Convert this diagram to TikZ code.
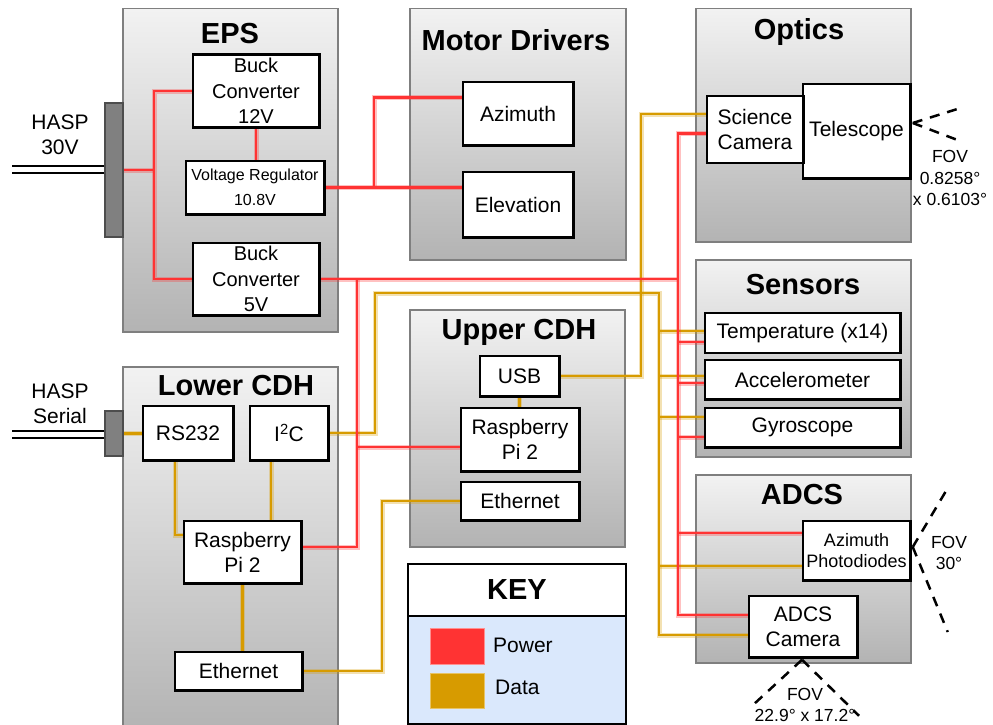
\documentclass[tikz,border=0pt]{standalone}
\usepackage{fontspec}
\setmainfont{Liberation Sans}
\usetikzlibrary{calc}

\definecolor{powerc}{HTML}{FF3333}
\definecolor{datac}{HTML}{D79B00}
\definecolor{keyblue}{HTML}{DAE8FC}
\definecolor{grpline}{HTML}{7F7F7F}
\definecolor{grptop}{HTML}{F2F2F2}
\definecolor{grpbot}{HTML}{B3B3B3}
\definecolor{plug}{HTML}{808080}
\definecolor{plugline}{HTML}{4D4D4D}

\tikzset{
  grp/.style={draw=grpline, line width=1.5pt, top color=grptop, bottom color=grpbot,
              anchor=north west, inner sep=0pt},
  blk/.style={draw=black, line width=1.5pt, fill=white, align=center, inner sep=0pt,
              font=\fontsize{21}{25}\selectfont},
  ttl/.style={inner sep=0pt, font=\bfseries\fontsize{29}{34}\selectfont},
  lbl/.style={align=center, inner sep=0pt, font=\fontsize{21}{25}\selectfont},
  fovtxt/.style={align=center, inner sep=0pt, font=\fontsize{17.5}{21.5}\selectfont},
  pwr/.style={draw=powerc, line width=2.5pt,
              preaction={draw=powerc, draw opacity=0.3, line width=5pt}},
  dat/.style={draw=datac, line width=2.5pt,
              preaction={draw=datac, draw opacity=0.3, line width=5pt}},
  fov/.style={draw=black, line width=2.5pt, dash pattern=on 10pt off 8pt},
  plugbox/.style={draw=plugline, line width=1.5pt, fill=plug, inner sep=0pt},
  cable/.style={draw=black, line width=1.3pt},
  keypart/.style={draw=black, line width=2pt, anchor=north west, inner sep=0pt},
  swatch/.style={inner sep=0pt, line width=1pt, minimum width=54pt},
}

\begin{document}
\begin{tikzpicture}[x=1pt, y=-1pt]
\useasboundingbox (0,0) rectangle (993,725);

% ---------- subsystem groups ----------
\node[grp, minimum width=215pt, minimum height=323pt] (eps)    at (122,8)   {};
\node[grp, minimum width=216pt, minimum height=251pt] (motor)  at (409,8)   {};
\node[grp, minimum width=215pt, minimum height=233pt] (optics) at (695,8)   {};
\node[grp, minimum width=215pt, minimum height=197pt] (sens)   at (695,259) {};
\node[grp, minimum width=215pt, minimum height=188pt] (adcs)   at (695,474) {};
\node[grp, minimum width=215pt, minimum height=365pt] (lcdh)   at (122,366) {};
\node[grp, minimum width=215pt, minimum height=237pt] (ucdh)   at (409,309) {};

% ---------- HASP interface plugs and cables ----------
\node[plugbox, minimum width=18pt, minimum height=134pt] (hasp30) at (114,170) {};
\node[plugbox, minimum width=18pt, minimum height=45pt]  (hasps)  at (114,433.5) {};
\draw[cable] ($(hasp30.west)+(0,-4)$) -- ++(-92,0);
\draw[cable] ($(hasp30.west)+(0,3)$)  -- ++(-92,0);
\draw[cable] ($(hasps.west)+(0,-2.5)$) -- ++(-92,0);
\draw[cable] ($(hasps.west)+(0,4.5)$)  -- ++(-92,0);
\node[lbl] (hasp30lbl) at (60,135)   {HASP\\30V};
\node[lbl] (haspslbl)  at (60,403.5) {HASP\\Serial};

% ---------- inner blocks (placed first so wires can refer to them) ----------
\path
  node[blk, minimum width=126pt, minimum height=72pt, font=\fontsize{20}{25.5}\selectfont]
       (buckH) at (256,91) {Buck\\Converter\\12V}
  node[blk, minimum width=138pt, minimum height=53pt, font=\fontsize{16}{24.5}\selectfont]
       (vreg) at (255,187.5) {Voltage Regulator\\10.8V}
  node[blk, minimum width=126pt, minimum height=72pt, font=\fontsize{20}{25.5}\selectfont]
       (buckL) at (256,279) {Buck\\Converter\\5V}
  node[blk, minimum width=110pt, minimum height=63pt] (azi)  at (518,113.5) {Azimuth}
  node[blk, minimum width=110pt, minimum height=65pt] (elev) at (518,204.5) {Elevation}
  node[blk, minimum width=96pt,  minimum height=66pt] (scicam) at (755,129.5) {Science\\Camera}
  node[blk, minimum width=107pt, minimum height=94pt] (tele) at (856.5,131) {Telescope}
  node[blk, minimum width=195pt, minimum height=39pt] (temp)  at (802.5,333)   {Temperature (x14)}
  node[blk, minimum width=195pt, minimum height=39pt] (accel) at (802.5,379.5) {Accelerometer}
  node[blk, minimum width=195pt, minimum height=39pt] (gyro)  at (802.5,427.5) {Gyroscope}
  node[blk, minimum width=107pt, minimum height=59pt, font=\fontsize{18}{21}\selectfont]
       (photo) at (856.5,550.5) {Azimuth\\Photodiodes}
  node[blk, minimum width=108pt, minimum height=61pt] (adcam) at (803,626.5) {ADCS\\Camera}
  node[blk, minimum width=90pt,  minimum height=54pt] (rs232) at (188,433) {RS232}
  node[blk, minimum width=78pt,  minimum height=54pt] (i2c)   at (289,433) {I\textsuperscript{2}C}
  node[blk, minimum width=117pt, minimum height=62pt] (lrpi)  at (242.5,552) {Raspberry\\Pi 2}
  node[blk, minimum width=127pt, minimum height=38pt] (leth)  at (238.5,671) {Ethernet}
  node[blk, minimum width=79pt,  minimum height=40pt] (usb)   at (519.5,376) {USB}
  node[blk, minimum width=118pt, minimum height=63pt] (urpi)  at (520,439.5) {Raspberry\\Pi 2}
  node[blk, minimum width=118pt, minimum height=38pt] (ueth)  at (520,501) {Ethernet};

% bus columns and rows
\coordinate (epsbus) at (154,0);
\coordinate (mdbus)  at (374,0);
\coordinate (cbus)   at (357,0);
\coordinate (rbus)   at (678,0);
\coordinate (ibus)   at (375,0);
\coordinate (ytop)   at (0,293);
\coordinate (dbus)   at (659,0);
\coordinate (ubus)   at (641,0);
\coordinate (ebus)   at (382,0);
\coordinate (rsx)    at (175,0);
\coordinate (i2x)    at (271,0);

% wire entry points on the blocks
\coordinate (aziP)   at ($(azi.west)+(0,-16)$);
\coordinate (sciP)   at ($(scicam.west)+(0,4)$);
\coordinate (sciD)   at ($(scicam.west)+(0,-15.5)$);
\coordinate (tempP)  at ($(temp.west)+(0,9)$);
\coordinate (tempD)  at ($(temp.west)+(0,-2)$);
\coordinate (accelP) at ($(accel.west)+(0,3.5)$);
\coordinate (accelD) at ($(accel.west)+(0,-3.5)$);
\coordinate (gyroP)  at ($(gyro.west)+(0,9.5)$);
\coordinate (gyroD)  at ($(gyro.west)+(0,-10.5)$);
\coordinate (photoP) at ($(photo.west)+(0,-17.5)$);
\coordinate (photoD) at ($(photo.west)+(0,15.5)$);
\coordinate (adcP)   at ($(adcam.west)+(0,-11.5)$);
\coordinate (adcD)   at ($(adcam.west)+(0,8.5)$);
\coordinate (lrpiP)  at ($(lrpi.east)+(0,-5)$);
\coordinate (lrpiD)  at ($(lrpi.west)+(0,-17)$);
\coordinate (urpiP)  at ($(urpi.west)+(0,7.5)$);

% ---------- data wiring ----------
\draw[dat] (hasps.east) -- (hasps.east -| rs232.west);
\draw[dat] (rsx |- rs232.south) |- (lrpiD);
\draw[dat] (i2x |- i2c.south) -- (i2x |- lrpi.north);
\draw[dat] (lrpi.south) -- (lrpi.south |- leth.north);
\draw[dat] (leth.east) -| (ebus |- ueth.west) -- (ueth.west);
\draw[dat] (i2c.east) -| (ibus |- ytop) -| (dbus |- adcD) -- (adcD);
\draw[dat] (dbus |- tempD)  -- (tempD);
\draw[dat] (dbus |- accelD) -- (accelD);
\draw[dat] (dbus |- gyroD)  -- (gyroD);
\draw[dat] (dbus |- photoD) -- (photoD);
\draw[dat] (usb.east) -| (ubus |- sciD) -- (sciD);
\draw[dat] (usb.south) -- (usb.south |- urpi.north);

% ---------- power wiring ----------
\draw[pwr] (hasp30.east) -- (hasp30.east -| epsbus);
\draw[pwr] (buckH.west) -| (epsbus |- buckL.west) -- (buckL.west);
\draw[pwr] (buckH.south) -- (buckH.south |- vreg.north);
\draw[pwr] (vreg.east) -- (vreg.east -| elev.west);
\draw[pwr] (vreg.east -| mdbus) |- (aziP);
\draw[pwr] (buckL.east) -- (buckL.east -| rbus);
\draw[pwr] (sciP) -| (rbus |- adcP) -- (adcP);
\draw[pwr] (rbus |- tempP)  -- (tempP);
\draw[pwr] (rbus |- accelP) -- (accelP);
\draw[pwr] (rbus |- gyroP)  -- (gyroP);
\draw[pwr] (rbus |- photoP) -- (photoP);
\draw[pwr] (lrpiP) -| (cbus |- buckL.east);
\draw[pwr] (cbus |- urpiP) -- (urpiP);

% ---------- blocks drawn again on top of the wire ends ----------
\foreach \b in {buckH,vreg,buckL,azi,elev,scicam,tele,temp,accel,gyro,photo,adcam,
                rs232,i2c,lrpi,leth,usb,urpi,ueth}{
  \draw[line width=1.5pt] (\b.north west) rectangle (\b.south east);
}

% ---------- group titles ----------
\node[ttl] (epsT)    at (230,34)  {EPS};
\node[ttl] (motorT)  at (516,40)  {Motor Drivers};
\node[ttl] (opticsT) at (799,32)  {Optics};
\node[ttl] (sensT)   at (803,285) {Sensors};
\node[ttl] (adcsT)   at (802,495) {ADCS};
\node[ttl] (lcdhT)   at (236,386) {Lower CDH};
\node[ttl] (ucdhT)   at (519,332) {Upper CDH};

% ---------- fields of view ----------
\coordinate (tv) at ($(tele.east)+(2,-8)$);
\draw[fov] (tv) -- ++(51,-16);
\draw[fov] (tv) -- ++(50,19);
\node[fovtxt] (fovtele) at (950,178) {FOV\\0.8258°\\x 0.6103°};

\coordinate (pv) at ($(photo.east)+(2,-3.5)$);
\draw[fov] (pv) -- ++(35,-59);
\draw[fov] (pv) -- ++(35,85);
\node[fovtxt] (fovphoto) at (949,553) {FOV\\30°};

\coordinate (cv) at ($(adcam.south)+(-1,2)$);
\draw[fov] (cv) -- ++(-52,48);
\draw[fov] (cv) -- ++(57,56);
\node[fovtxt] (fovcam) at (805,705) {FOV\\22.9° x 17.2°};

% ---------- key ----------
\node[keypart, fill=white,   minimum width=218pt, minimum height=52pt]  (keyH) at (407,563) {};
\node[keypart, fill=keyblue, minimum width=218pt, minimum height=108pt] (keyB) at (407,615) {};
\node[ttl] (keyT) at (keyH.center) {KEY};
\node[swatch, fill=powerc, draw=powerc!55!white, minimum height=36pt] (swP) at (457,646) {};
\node[swatch, fill=datac,  draw=datac!60!white,  minimum height=35pt] (swD) at (457,690.5) {};
\node[lbl, anchor=west] (swPl) at (493,645) {Power};
\node[lbl, anchor=west] (swDl) at (495,687) {Data};
\end{tikzpicture}
\end{document}
